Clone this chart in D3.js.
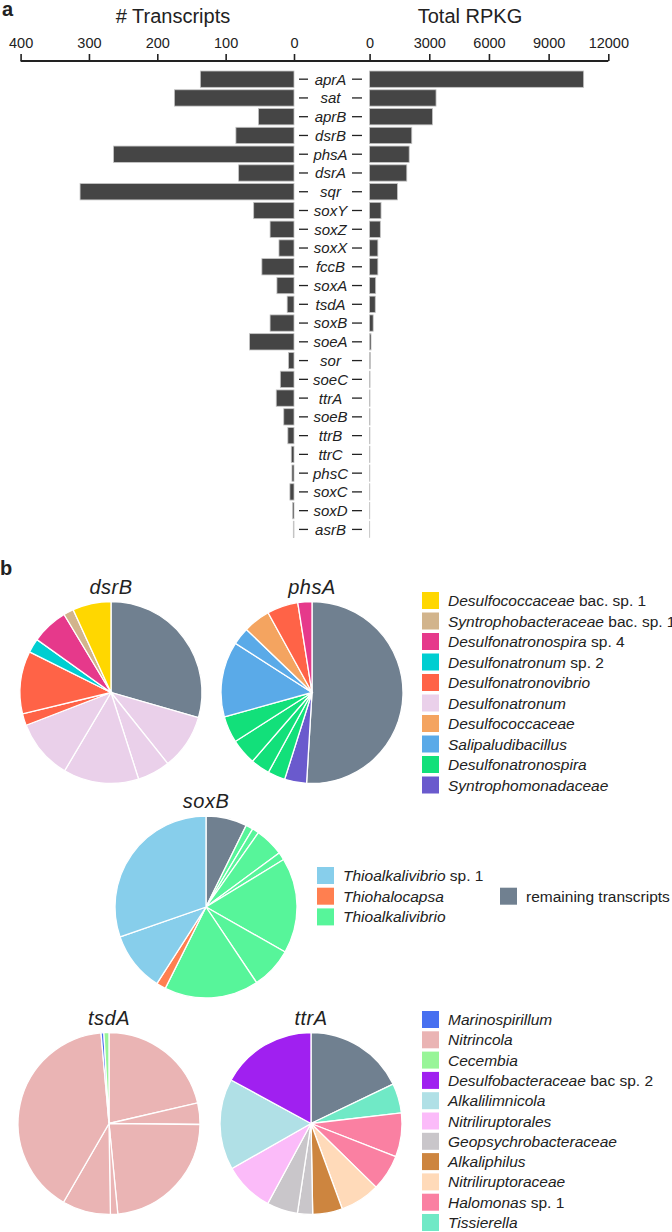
<!DOCTYPE html>
<html>
<head>
<meta charset="utf-8">
<title>Sulfur genes</title>
<script src="https://d3js.org/d3.v7.min.js"></script>
<style>
    body { margin: 0; background: #fff; }
    svg text { font-family: "Liberation Sans", Arial, Helvetica, sans-serif; fill: #222; }
    .gene { font-style: italic; }
</style>
</head>
<body>
<svg id="chart" width="672" height="1232"></svg>
<script>
// ---- panel a: transcripts and RPKG per gene ----
const genes = ["aprA", "sat", "aprB", "dsrB", "phsA", "dsrA", "sqr", "soxY", "soxZ", "soxX", "fccB", "soxA", "tsdA",
    "soxB", "soeA", "sor", "soeC", "ttrA", "soeB", "ttrB", "ttrC", "phsC", "soxC", "soxD", "asrB"];
const transcripts = [137, 175, 52, 85, 264, 81, 313, 59, 35, 22, 47, 25, 10, 35, 65, 8, 20, 26, 15, 9, 4, 3, 6, 2, 1];
const rpkg = [10760, 3340, 3160, 2120, 1990, 1870, 1400, 575, 540, 415, 415, 305, 285, 180, 72, 36, 22, 20, 20, 16, 15, 12, 10, 8, 5];
const transcriptTicks = [400, 300, 200, 100, 0];
const rpkgTicks = [0, 3000, 6000, 9000, 12000];

// ---- panel b: legends ----
const remaining = "remaining transcripts";
const remainingColour = "#708090";
const taxaA = ["Desulfococcaceae bac. sp. 1", "Syntrophobacteraceae bac. sp. 1", "Desulfonatronospira sp. 4",
    "Desulfonatronum sp. 2", "Desulfonatronovibrio", "Desulfonatronum", "Desulfococcaceae", "Salipaludibacillus",
    "Desulfonatronospira", "Syntrophomonadaceae"];
const coloursA = ["#ffd700", "#d2b48c", "#e6398b", "#00ced1", "#ff6347", "#ead0ea", "#f4a460", "#5aaae8", "#12e07a", "#6a5acd"];
const taxaB = ["Thioalkalivibrio sp. 1", "Thiohalocapsa", "Thioalkalivibrio"];
const coloursB = ["#87ceeb", "#ff7f50", "#57f59a"];
const taxaC = ["Marinospirillum", "Nitrincola", "Cecembia", "Desulfobacteraceae bac sp. 2", "Alkalilimnicola",
    "Nitriliruptorales", "Geopsychrobacteraceae", "Alkaliphilus", "Nitriliruptoraceae", "Halomonas sp. 1", "Tissierella"];
const coloursC = ["#4870f0", "#eab4b4", "#98f598", "#a020f0", "#b0e0e6", "#fbbbf9", "#c9c6ca", "#cd853f", "#ffdab9", "#fa80a2", "#70e9c6"];

// ---- panel b: pie slices (clockwise from 12 o'clock), % of transcripts ----
const dsrBTaxa = [remaining, "Desulfonatronum", "Desulfonatronum", "Desulfonatronum", "Desulfonatronum",
    "Desulfonatronovibrio", "Desulfonatronovibrio", "Desulfonatronum sp. 2", "Desulfonatronospira sp. 4",
    "Syntrophobacteraceae bac. sp. 1", "Desulfococcaceae bac. sp. 1"];
const dsrBShare = [29.4, 9.8, 5.8, 13.4, 10.6, 2.1, 11.1, 2.5, 6.5, 1.8, 6.8];

const phsATaxa = [remaining, "Syntrophomonadaceae", "Desulfonatronospira", "Desulfonatronospira", "Desulfonatronospira",
    "Desulfonatronospira", "Salipaludibacillus", "Salipaludibacillus", "Desulfococcaceae", "Desulfonatronovibrio",
    "Desulfonatronospira sp. 4"];
const phsAShare = [50.9, 3.9, 3.1, 3.4, 4.6, 4.7, 13.4, 3.1, 4.8, 5.5, 2.5];

const soxBTaxa = [remaining, "Thioalkalivibrio", "Thioalkalivibrio", "Thioalkalivibrio", "Thioalkalivibrio",
    "Thioalkalivibrio", "Thioalkalivibrio", "Thioalkalivibrio", "Thiohalocapsa", "Thioalkalivibrio sp. 1",
    "Thioalkalivibrio sp. 1"];
const soxBShare = [7.3, 1.3, 1.2, 5.1, 1.4, 17.0, 7.4, 16.8, 1.7, 10.6, 30.4];

const tsdATaxa = ["Nitrincola", "Nitrincola", "Nitrincola", "Nitrincola", "Nitrincola", "Nitrincola",
    "Marinospirillum", "Cecembia"];
const tsdAShare = [21.4, 3.8, 23.3, 1.3, 8.6, 40.3, 0.5, 0.9];

const ttrATaxa = [remaining, "Tissierella", "Halomonas sp. 1", "Halomonas sp. 1", "Nitriliruptoraceae", "Alkaliphilus",
    "Geopsychrobacteraceae", "Geopsychrobacteraceae", "Nitriliruptorales", "Alkalilimnicola",
    "Desulfobacteraceae bac sp. 2"];
const ttrAShare = [17.9, 5.3, 7.8, 6.4, 7.1, 5.3, 2.7, 5.5, 8.9, 16.2, 17.1];

const svg = d3.select("#chart");

// ================= panel a =================
const y = d3.scaleBand().domain(genes).range([69.8, 538.8]).paddingInner(0.13).paddingOuter(0.065);
const xLeft = d3.scaleLinear().domain([0, 400]).range([294, 20.6]);
const xRight = d3.scaleLinear().domain([0, 12000]).range([369.6, 608.3]);
const axisY = 61;

svg.append("text").attr("x", 2).attr("y", 16)
    .style("font-size", "20px").style("font-weight", "bold").text("a");

svg.append("text").attr("x", 173).attr("y", 23).attr("text-anchor", "middle")
    .style("font-size", "20px").text("# Transcripts");
svg.append("text").attr("x", 470).attr("y", 23).attr("text-anchor", "middle")
    .style("font-size", "20px").text("Total RPKG");

const drawAxis = (scale, ticks) => {
    const g = svg.append("g")
        .attr("transform", `translate(0,${axisY})`)
        .call(d3.axisTop(scale).tickValues(ticks).tickSize(7).tickPadding(6).tickFormat(d3.format("d")));
    g.select(".domain").remove();
    g.selectAll(".tick line").attr("stroke", "#222").attr("stroke-width", 1.6);
    g.selectAll(".tick text").style("font-size", "14.5px")
        .style("font-family", "'Liberation Sans', Arial, Helvetica, sans-serif").attr("fill", "#222");
};
drawAxis(xLeft, transcriptTicks);
drawAxis(xRight, rpkgTicks);

svg.append("line")
    .attr("x1", xLeft(400)).attr("x2", xRight(12000))
    .attr("y1", axisY).attr("y2", axisY)
    .attr("stroke", "#222").attr("stroke-width", 2);

// left bars (# transcripts)
svg.append("g").selectAll("rect")
    .data(genes)
    .join("rect")
    .attr("x", (d, i) => xLeft(transcripts[i]))
    .attr("y", d => y(d))
    .attr("width", (d, i) => xLeft(0) - xLeft(transcripts[i]))
    .attr("height", y.bandwidth())
    .attr("fill", "#454545")
    .attr("stroke", "#c4c4c4")
    .attr("stroke-width", 0.8);

// right bars (total RPKG)
svg.append("g").selectAll("rect")
    .data(genes)
    .join("rect")
    .attr("x", xRight(0))
    .attr("y", d => y(d))
    .attr("width", (d, i) => xRight(rpkg[i]) - xRight(0))
    .attr("height", y.bandwidth())
    .attr("fill", "#454545")
    .attr("stroke", "#c4c4c4")
    .attr("stroke-width", 0.8);

// gene labels with small dashes either side
const labelX = 330.5;
const labels = svg.append("g").selectAll("g")
    .data(genes)
    .join("g")
    .attr("transform", d => `translate(0,${y(d) + y.bandwidth() / 2})`);
labels.append("line").attr("x1", 299).attr("x2", 308).attr("stroke", "#222").attr("stroke-width", 1.3);
labels.append("line").attr("x1", 352).attr("x2", 362).attr("stroke", "#222").attr("stroke-width", 1.3);
labels.append("text")
    .attr("class", "gene")
    .attr("x", labelX)
    .attr("dy", "0.36em")
    .attr("text-anchor", "middle")
    .style("font-size", "15px")
    .text(d => d);

// ================= panel b =================
svg.append("text").attr("x", 0).attr("y", 575)
    .style("font-size", "20px").style("font-weight", "bold").text("b");

const colour = d3.scaleOrdinal()
    .domain([remaining, ...taxaA, ...taxaB, ...taxaC])
    .range([remainingColour, ...coloursA, ...coloursB, ...coloursC]);

const pie = d3.pie().sort(null).value(d => d.share);
const radius = 91;
const arc = d3.arc().innerRadius(0).outerRadius(radius);

const drawPie = (title, taxa, shares, cx, cy) => {
    const slices = taxa.map((t, i) => ({ taxon: t, share: shares[i] }));
    const g = svg.append("g").attr("transform", `translate(${cx},${cy})`);
    g.selectAll("path")
        .data(pie(slices))
        .join("path")
        .attr("d", arc)
        .attr("fill", d => colour(d.data.taxon))
        .attr("stroke", "#fff")
        .attr("stroke-width", 1.3);
    svg.append("text")
        .attr("class", "gene")
        .attr("x", cx).attr("y", cy - radius - 8)
        .attr("text-anchor", "middle")
        .style("font-size", "20px")
        .style("letter-spacing", "0.5px")
        .text(title);
};

drawPie("dsrB", dsrBTaxa, dsrBShare, 111, 692.5);
drawPie("phsA", phsATaxa, phsAShare, 312, 692.5);
drawPie("soxB", soxBTaxa, soxBShare, 206, 907);
drawPie("tsdA", tsdATaxa, tsdAShare, 109, 1123.5);
drawPie("ttrA", ttrATaxa, ttrAShare, 311, 1123.5);

// legend: first word in italics (taxon), rest upright
const drawLegend = (taxa, x, y0, step) => {
    const g = svg.append("g").selectAll("g")
        .data(taxa)
        .join("g")
        .attr("transform", (d, i) => `translate(${x},${y0 + i * step})`);
    g.append("rect")
        .attr("x", 0).attr("y", -8.5)
        .attr("width", 17).attr("height", 17)
        .attr("fill", d => colour(d));
    const t = g.append("text")
        .attr("x", 26).attr("dy", "0.36em")
        .style("font-size", "15.5px");
    t.each(function (d) {
        const sel = d3.select(this);
        if (d === remaining) {
            sel.text(d);
            return;
        }
        const parts = d.split(" ");
        sel.append("tspan").style("font-style", "italic").text(parts[0]);
        if (parts.length > 1) sel.append("tspan").text(" " + parts.slice(1).join(" "));
    });
};

drawLegend(taxaA, 422, 600.5, 20.5);
drawLegend(taxaB, 317, 875.5, 20.7);
drawLegend([remaining], 500, 896.2, 20.7);
drawLegend(taxaC, 422, 1019.5, 20.3);
</script>
</body>
</html>
